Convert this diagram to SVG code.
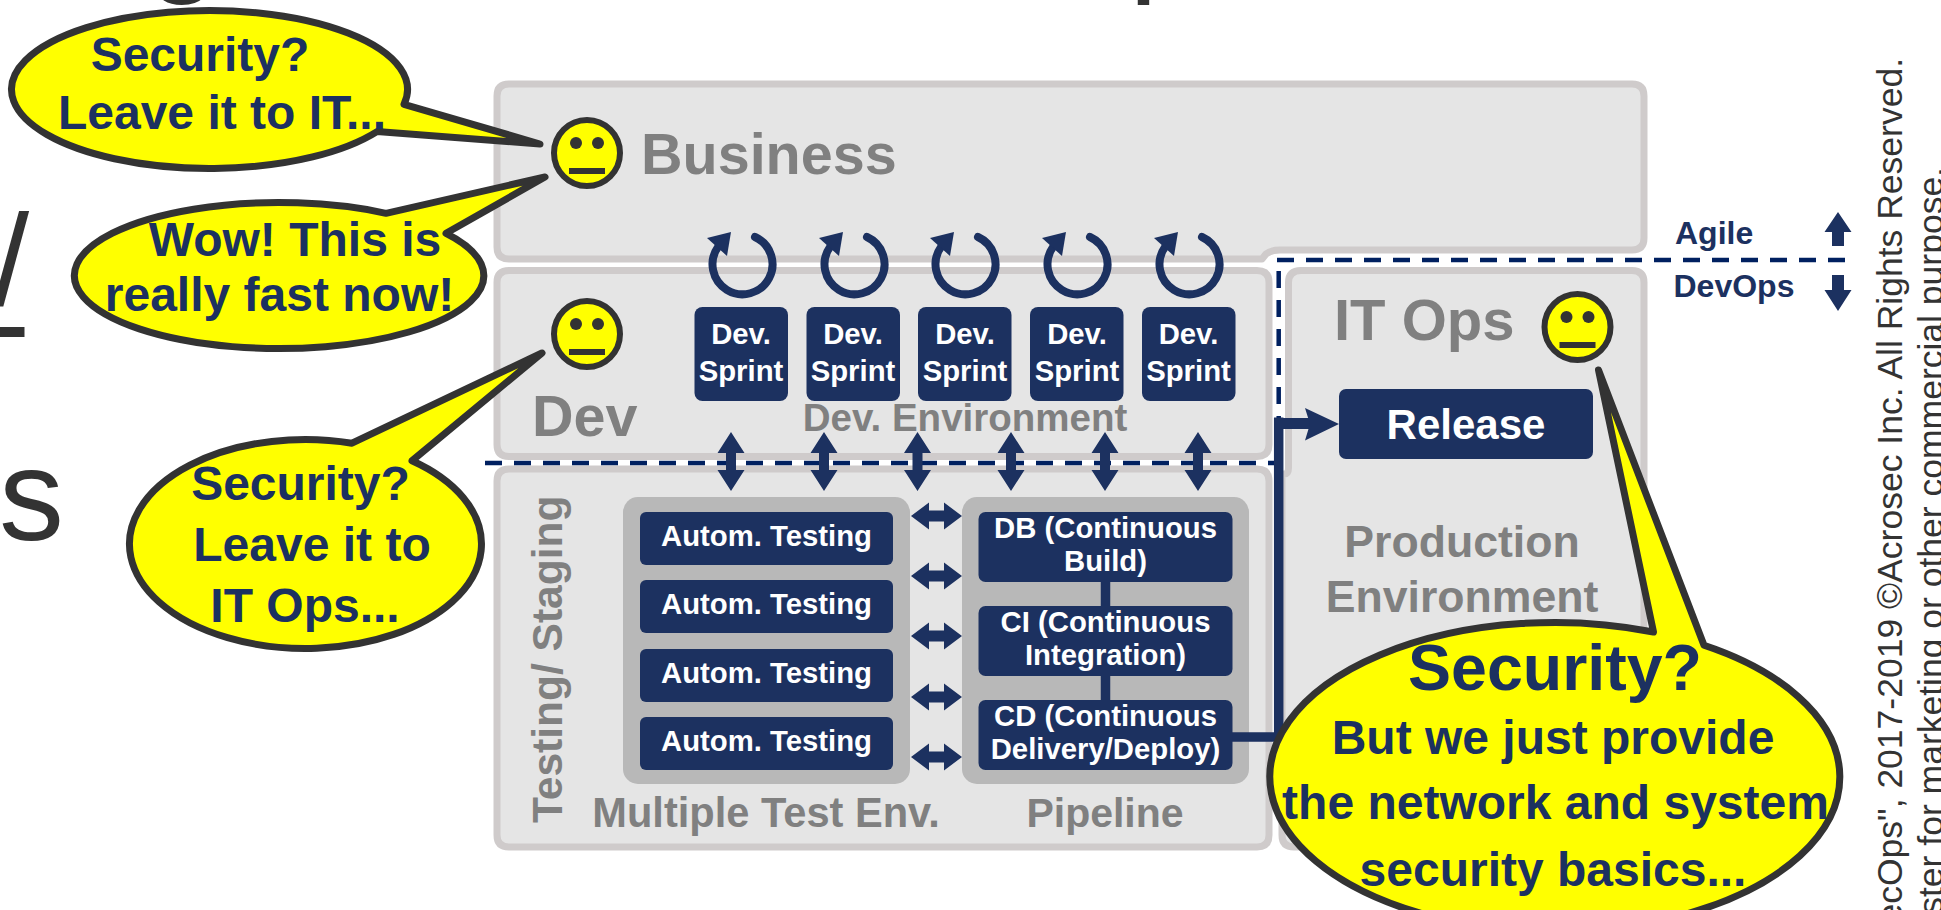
<svg xmlns="http://www.w3.org/2000/svg" xmlns:xlink="http://www.w3.org/1999/xlink" width="1941" height="910" viewBox="0 0 1941 910">
<style>
text{font-family:"Liberation Sans",Arial,sans-serif}
.panel{fill:#e5e5e5;stroke:#cfcbcb;stroke-width:7;stroke-linejoin:round}
.grp{fill:#b8b8b8}
.box{fill:#1c3160}
.wt{fill:#fff;font-weight:700;font-size:29.300px;text-anchor:middle}
.gt{fill:#808080;font-weight:700;text-anchor:middle}
.bt{fill:#1c3160;font-weight:700;text-anchor:middle}
.bub{fill:#ff0;stroke:#333;stroke-width:7;stroke-linejoin:round}
.bg{fill:#333;font-size:130px}
.cr{fill:#333;font-size:35.5px;text-anchor:end}
.dash{fill:none;stroke:#002060;stroke-width:4.500;stroke-dasharray:17 12}
.arr{fill:#1c3160}
.loop{fill:none;stroke:#1c3160;stroke-width:8;stroke-linecap:round}
.face{fill:#ff0;stroke:#333;stroke-width:6}
.eye{fill:#333}
.link{fill:none;stroke:#1c3160;stroke-width:9.5}
</style>
<defs>
<path id="va" d="M0 0L13.5 21H5V38H13.5L0 59L-13.5 38H-5V21H-13.5Z"/>
<path id="ha" d="M0 0L18 -13.5V-5.500H33V-13.500L51 0L33 13.500V5.500H18V13.500Z"/>
<g id="lp">
<path class="loop" d="M13 -27A30 30 0 1 1 -24 -17"/>
<path class="arr" d="M-35 -26L-11 -32L-15 -8Z"/>
</g>
<g id="fc">
<circle class="face" r="33"/>
<circle class="eye" cx="-11" cy="-10" r="6"/>
<circle class="eye" cx="11" cy="-10" r="6"/>
<rect class="eye" x="-18" y="15" width="36" height="6"/>
</g>
</defs>

<g id="backdrop-text">
<text class="bg" x="147" y="-22">g</text>
<text class="bg" x="1129" y="-22">p</text>
<text class="bg" x="-7" y="305">/</text>
<text class="bg" x="-43.600" y="337">L</text>
<text class="bg" x="-1" y="540">s</text>
<text class="cr" transform="translate(1902 58) rotate(-90)">ecOps", 2017-2019 ©Acrosec Inc. All Rights Reserved.</text>
<text class="cr" transform="translate(1943 167) rotate(-90)">ster for marketing or other commercial purpose.</text>
</g>

<g id="business">
<path class="panel" d="M509 84H1632Q1644 84 1644 96V238Q1644 250 1632 250H1280Q1271 250 1266 254L1262 259H509Q497 259 497 247V96Q497 84 509 84Z"/>
<text class="gt" x="641" y="174" font-size="57.500" style="text-anchor:start">Business</text>
</g>
<g id="it-ops">
<path class="panel" d="M1301 270.500H1632Q1644 270.500 1644 282.500V835Q1644 847 1632 847H1294Q1282 847 1282 835V474H1284Q1288.500 474 1288.500 468V282.500Q1288.500 270.500 1301 270.500Z"/>
<text class="gt" x="1334" y="340" font-size="58" style="text-anchor:start">IT Ops</text>
<text class="gt" x="1462" y="557" font-size="44.600">Production</text>
<text class="gt" x="1462" y="612" font-size="44.600">Environment</text>
</g>
<g id="dev">
<path class="panel" d="M509 270.500H1257Q1269 270.500 1269 282.500V444.500Q1269 456.500 1257 456.500H509Q497 456.500 497 444.500V282.500Q497 270.500 509 270.500Z"/>
<text class="gt" x="532" y="436" font-size="57.500" style="text-anchor:start">Dev</text>
<text class="gt" x="965" y="431" font-size="38.500">Dev. Environment</text>
</g>
<g id="testing">
<path class="panel" d="M509 469H1257Q1269 469 1269 481V835Q1269 847 1257 847H509Q497 847 497 835V481Q497 469 509 469Z"/>
<text class="gt" transform="translate(562 823) rotate(-90)" font-size="42.500" style="text-anchor:start">Testing/ Staging</text>
<text class="gt" x="766" y="827" font-size="41.600">Multiple Test Env.</text>
<text class="gt" x="1105" y="827" font-size="41">Pipeline</text>
</g>
<g id="group-tests"><rect class="grp" x="623" y="497" width="287" height="287" rx="15"/></g>
<g id="group-pipeline"><rect class="grp" x="962" y="497" width="287" height="287" rx="15"/></g>

<g id="connectors">
<path class="dash" d="M1277 260H1848"/>
<path class="dash" d="M1278.700 271V463"/>
<path class="dash" d="M485 463H1279"/>
<path class="link" d="M1105.500 581V700"/>
<path class="link" d="M1232 737H1278.700V417.500"/>
<path class="arr" d="M1283 418H1312V429H1283Z"/>
<path class="arr" d="M1339 424L1305 408L1310 424L1305 440.500Z"/>
<g class="arr">
<use xlink:href="#va" x="731" y="432"/>
<use xlink:href="#va" x="824" y="432"/>
<use xlink:href="#va" x="917.500" y="432"/>
<use xlink:href="#va" x="1011" y="432"/>
<use xlink:href="#va" x="1105" y="432"/>
<use xlink:href="#va" x="1198" y="432"/>
<use xlink:href="#ha" x="911" y="516"/>
<use xlink:href="#ha" x="911" y="576"/>
<use xlink:href="#ha" x="911" y="636"/>
<use xlink:href="#ha" x="911" y="697"/>
<use xlink:href="#ha" x="911" y="757"/>
<path d="M1838 212L1851.500 232H1844V246H1832V232H1824.500Z"/>
<path d="M1838 311L1851.500 290H1844V275H1832V290H1824.500Z"/>
</g>
<use xlink:href="#lp" x="742" y="264"/>
<use xlink:href="#lp" x="854" y="264"/>
<use xlink:href="#lp" x="965" y="264"/>
<use xlink:href="#lp" x="1077" y="264"/>
<use xlink:href="#lp" x="1189" y="264"/>
</g>

<g id="sprint-1"><rect class="box" x="694.500" y="307" width="93.500" height="94" rx="8"/><text class="wt" x="741" y="344">Dev.</text><text class="wt" x="741" y="381">Sprint</text></g>
<g id="sprint-2"><rect class="box" x="806.500" y="307" width="93.500" height="94" rx="8"/><text class="wt" x="853" y="344">Dev.</text><text class="wt" x="853" y="381">Sprint</text></g>
<g id="sprint-3"><rect class="box" x="918" y="307" width="93.500" height="94" rx="8"/><text class="wt" x="965" y="344">Dev.</text><text class="wt" x="965" y="381">Sprint</text></g>
<g id="sprint-4"><rect class="box" x="1030" y="307" width="93.500" height="94" rx="8"/><text class="wt" x="1077" y="344">Dev.</text><text class="wt" x="1077" y="381">Sprint</text></g>
<g id="sprint-5"><rect class="box" x="1142" y="307" width="93.500" height="94" rx="8"/><text class="wt" x="1188.500" y="344">Dev.</text><text class="wt" x="1188.500" y="381">Sprint</text></g>

<g id="test-1"><rect class="box" x="640" y="512" width="253" height="53" rx="6"/><text class="wt" x="766.500" y="546">Autom. Testing</text></g>
<g id="test-2"><rect class="box" x="640" y="580" width="253" height="53" rx="6"/><text class="wt" x="766.500" y="614">Autom. Testing</text></g>
<g id="test-3"><rect class="box" x="640" y="649" width="253" height="53" rx="6"/><text class="wt" x="766.500" y="683">Autom. Testing</text></g>
<g id="test-4"><rect class="box" x="640" y="717" width="253" height="53" rx="6"/><text class="wt" x="766.500" y="751">Autom. Testing</text></g>

<g id="db"><rect class="box" x="978.500" y="512" width="254" height="70" rx="7"/><text class="wt" x="1105.500" y="538">DB (Continuous</text><text class="wt" x="1105.500" y="571">Build)</text></g>
<g id="ci"><rect class="box" x="978.500" y="606" width="254" height="70" rx="7"/><text class="wt" x="1105.500" y="632">CI (Continuous</text><text class="wt" x="1105.500" y="665">Integration)</text></g>
<g id="cd"><rect class="box" x="978.500" y="700" width="254" height="70" rx="7"/><text class="wt" x="1105.500" y="726">CD (Continuous</text><text class="wt" x="1105.500" y="759">Delivery/Deploy)</text></g>

<g id="release"><rect class="box" x="1339" y="389" width="254" height="70" rx="7"/><text class="wt" x="1466" y="439" style="font-size:42px">Release</text></g>

<g id="agile-labels">
<text class="bt" x="1675" y="244" font-size="32" style="text-anchor:start">Agile</text>
<text class="bt" x="1673.500" y="296.500" font-size="32" style="text-anchor:start">DevOps</text>
</g>

<use id="face-business" xlink:href="#fc" x="587" y="153"/>
<use id="face-dev" xlink:href="#fc" x="587" y="334"/>
<use id="face-itops" xlink:href="#fc" x="1577.500" y="327"/>

<g id="bubble-business-1">
<path class="bub" d="M404 104.300A198 79 0 1 0 377 131.600L540 144Z"/>
<text class="bt" x="200" y="71" font-size="48">Security?</text>
<text class="bt" x="222" y="129" font-size="48">Leave it to IT...</text>
</g>
<g id="bubble-business-2">
<path class="bub" d="M386 213.300A204.700 73 0 1 0 446 233.300L545 177Z"/>
<text class="bt" x="295" y="256" font-size="48">Wow! This is</text>
<text class="bt" x="279.500" y="311" font-size="48">really fast now!</text>
</g>
<g id="bubble-dev">
<path class="bub" d="M352 443.200A176 104.500 0 1 0 412 460.800L542 353Z"/>
<text class="bt" x="300.500" y="500" font-size="48">Security?</text>
<text class="bt" x="312" y="561" font-size="48">Leave it to</text>
<text class="bt" x="305" y="622" font-size="48">IT Ops...</text>
</g>
<g id="bubble-itops">
<path class="bub" d="M1704 645.300A285 154.500 0 1 1 1653.500 632L1598.500 370Z"/>
<text class="bt" x="1555" y="690" font-size="64.500">Security?</text>
<text class="bt" x="1553" y="753.500" font-size="48">But we just provide</text>
<text class="bt" x="1555.500" y="819" font-size="48">the network and system</text>
<text class="bt" x="1553" y="886" font-size="48">security basics...</text>
</g>
</svg>
